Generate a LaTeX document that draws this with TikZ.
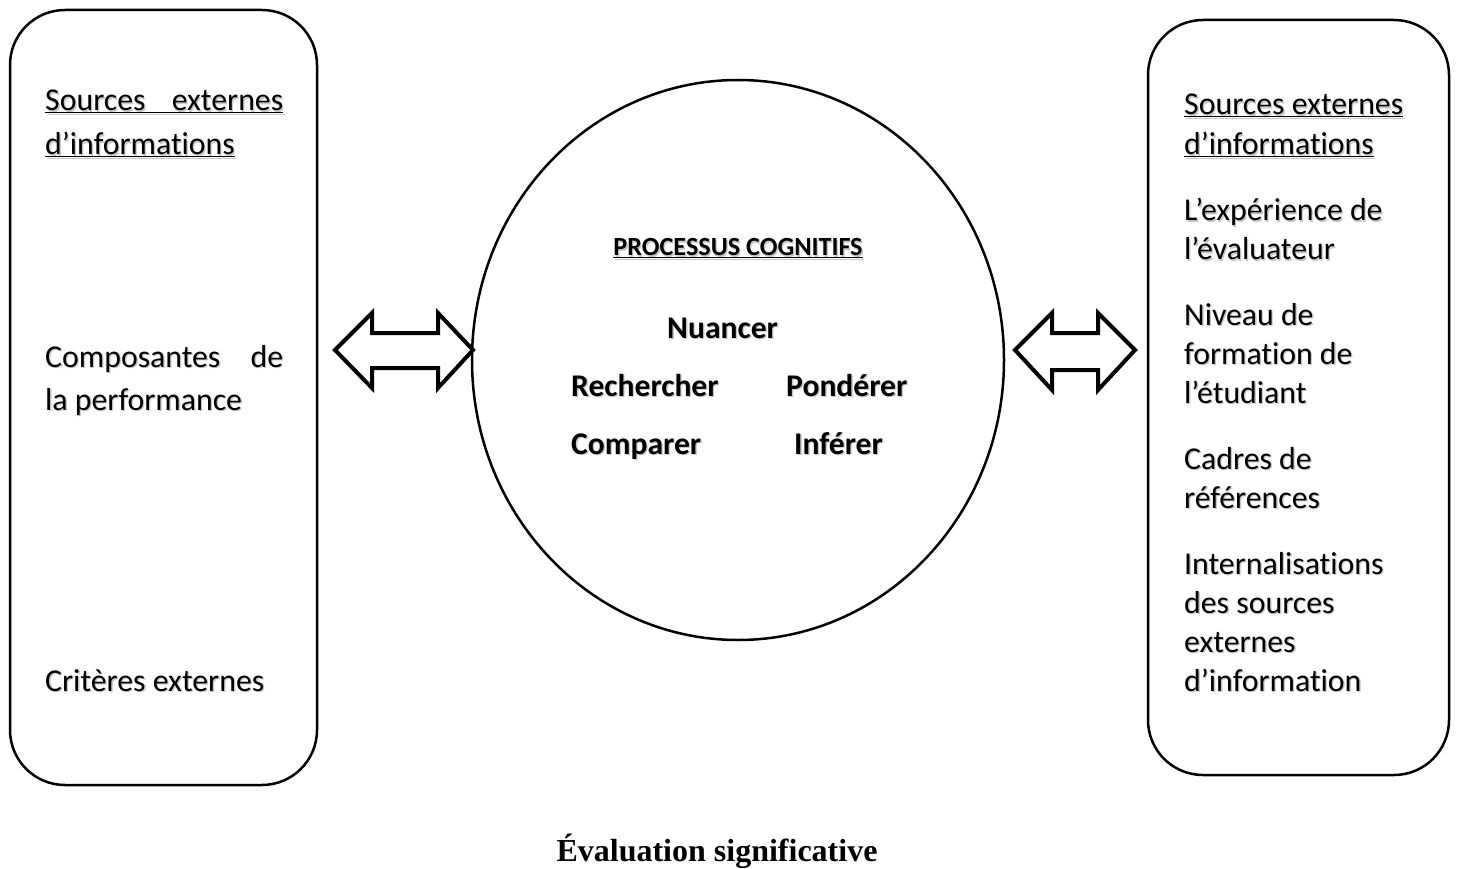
\documentclass[tikz,border=0pt]{standalone}
\usepackage{fontspec}
\setmainfont[Ligatures=NoCommon]{Carlito}
\newfontfamily\capfont{Liberation Serif}
\usetikzlibrary{shapes.geometric}
\newcommand\shd[1]{\leavevmode\rlap{\hspace{1.3pt}\raisebox{-1.3pt}{\color{black!22}#1}}#1}
\begin{document}
\begin{tikzpicture}[x=1pt,y=-1pt,
  box/.style={draw,line width=2.5pt,rounded corners=55pt},
  circ/.style={draw,line width=2.5pt,ellipse,inner sep=0pt},
  dbl/.style={draw,line width=4pt,fill=white,line join=miter},
  txt/.style={anchor=base west,inner sep=0pt,font=\fontsize{31.8}{38}\selectfont},
  ctxt/.style={anchor=base west,inner sep=0pt,font=\fontsize{31.6}{38}\selectfont\bfseries},
  head/.style={anchor=base,inner sep=0pt,font=\fontsize{26.2}{31}\selectfont\bfseries},
  captxt/.style={anchor=base,inner sep=0pt,font=\fontsize{32}{38}\selectfont\capfont\bfseries}]
\useasboundingbox (0,0) rectangle (1457,869);
% boxes and circle
\node[box,minimum width=307pt,minimum height=775pt] (L) at (163.5,397.5) {};
\node[box,minimum width=301pt,minimum height=755pt] (R) at (1298.5,397.5) {};
\node[circ,minimum width=532pt,minimum height=560pt] (C) at (738,360) {};
% double arrows
\draw[dbl] (335,350) -- (372,313) -- (372,333) -- (438,333) -- (438,313) -- (473,350)
  -- (438,388) -- (438,368) -- (372,368) -- (372,388) -- cycle;
\draw[dbl] (1015,350) -- (1052,313) -- (1052,333) -- (1098,333) -- (1098,313) -- (1135,350)
  -- (1098,390) -- (1098,370) -- (1052,370) -- (1052,390) -- cycle;
% left box texts
\node[txt] (l1) at (45,111) {\shd{\underline{\makebox[238pt][s]{Sources externes}}}};
\node[txt] (l2) at (45,155) {\shd{\underline{d’informations}}};
\node[txt] (l3) at (45,367) {\shd{\makebox[238pt][s]{Composantes de}}};
\node[txt] (l4) at (45,410) {\shd{la performance}};
\node[txt] (l5) at (45,691) {\shd{Critères externes}};
% right box texts
\node[txt] (r1) at (1184,115) {\shd{\underline{Sources externes}}};
\node[txt] (r2) at (1184,155) {\shd{\underline{d’informations}}};
\node[txt] (r3) at (1184,221) {\shd{L’expérience de}};
\node[txt] (r4) at (1184,260) {\shd{l’évaluateur}};
\node[txt] (r5) at (1184,325) {\shd{Niveau de}};
\node[txt] (r6) at (1184,364) {\shd{formation de}};
\node[txt] (r7) at (1184,403) {\shd{l’étudiant}};
\node[txt] (r8) at (1184,469) {\shd{Cadres de}};
\node[txt] (r9) at (1184,508) {\shd{références}};
\node[txt] (r10) at (1184,574) {\shd{Internalisations}};
\node[txt] (r11) at (1184,613) {\shd{des sources}};
\node[txt] (r12) at (1184,652) {\shd{externes}};
\node[txt] (r13) at (1184,691) {\shd{d’information}};
% circle texts
\node[head] (h) at (738,256) {\shd{\underline{PROCESSUS COGNITIFS}}};
\node[ctxt] (c1) at (667,338) {\shd{Nuancer}};
\node[ctxt] (c2) at (571,396) {\shd{Rechercher}};
\node[ctxt] (c3) at (786,396) {\shd{Pondérer}};
\node[ctxt] (c4) at (571,454) {\shd{Comparer}};
\node[ctxt] (c5) at (794,454) {\shd{Inférer}};
% caption
\node[captxt] (captn) at (717,861) {Évaluation significative};
\end{tikzpicture}
\end{document}
